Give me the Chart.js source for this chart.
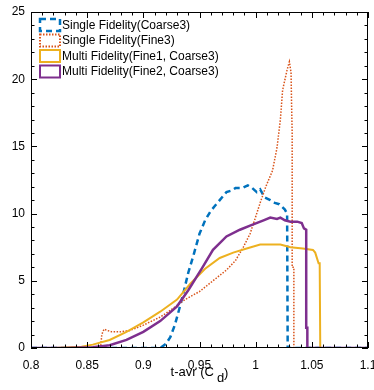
<!DOCTYPE html>
<html><head><meta charset="utf-8">
<script src="https://cdn.jsdelivr.net/npm/chart.js@4.4.0/dist/chart.umd.min.js"></script>
<style>html,body{margin:0;padding:0;background:#fff}#wrap{width:374px;height:390px}</style>
</head><body><div id="wrap"><canvas id="c" width="374" height="390"></canvas></div>
<script>
// ---- data ----
const seriesLabels = ['Single Fidelity(Coarse3)', 'Single Fidelity(Fine3)', 'Multi Fidelity(Fine1, Coarse3)', 'Multi Fidelity(Fine2, Coarse3)'];

const coarse3X = [0.8, 0.915, 0.92, 0.924, 0.928, 0.932, 0.936, 0.94, 0.945, 0.95, 0.955, 0.96, 0.964, 0.968, 0.974, 0.978, 0.982, 0.988, 0.993, 0.997, 1.001, 1.004, 1.008, 1.013, 1.017, 1.021, 1.026, 1.028, 1.0285, 1.1];
const coarse3Y = [0, 0, 0.3, 0.8, 1.7, 2.9, 4.2, 5.6, 7.0, 8.5, 9.5, 10.2, 10.6, 11.0, 11.6, 11.7, 11.9, 11.9, 12.1, 11.9, 11.6, 11.8, 11.2, 11.0, 10.8, 10.7, 10.3, 10.0, 0, 0];

const fine3X = [0.8, 0.862, 0.863, 0.865, 0.868, 0.872, 0.879, 0.888, 0.9, 0.915, 0.924, 0.937, 0.95, 0.962, 0.974, 0.982, 0.989, 0.995, 0.999, 1.004, 1.009, 1.015, 1.019, 1.022, 1.024, 1.028, 1.030, 1.0315, 1.032, 1.0325, 1.0325, 1.034, 1.034, 1.1];
const fine3Y = [0, 0, 1.0, 1.4, 1.3, 1.2, 1.2, 1.3, 1.7, 2.3, 2.8, 3.6, 4.2, 5.0, 5.8, 6.5, 7.5, 8.5, 9.5, 10.8, 12.0, 13.2, 14.9, 17.0, 19.2, 20.7, 21.3, 20.5, 18.0, 16.0, 6.0, 6.0, 0, 0];

const fine1X = [0.8, 0.82, 0.835, 0.845, 0.855, 0.87, 0.885, 0.9, 0.915, 0.93, 0.942, 0.955, 0.968, 0.98, 0.992, 1.004, 1.013, 1.022, 1.031, 1.042, 1.051, 1.053, 1.056, 1.057, 1.0575, 1.1];
const fine1Y = [0, 0, 0.05, 0.1, 0.25, 0.6, 1.2, 1.9, 2.7, 3.6, 4.8, 5.9, 6.7, 7.1, 7.4, 7.7, 7.7, 7.7, 7.5, 7.4, 7.3, 7.1, 6.3, 6.3, 0, 0];

const fine2X = [0.8, 0.83, 0.855, 0.87, 0.885, 0.9, 0.915, 0.93, 0.94, 0.952, 0.962, 0.974, 0.986, 0.995, 1.007, 1.013, 1.019, 1.022, 1.026, 1.031, 1.037, 1.041, 1.043, 1.045, 1.045, 1.046, 1.046, 1.1];
const fine2Y = [0, 0, 0.05, 0.2, 0.6, 1.2, 2.0, 3.1, 4.3, 5.9, 7.3, 8.3, 8.8, 9.1, 9.5, 9.7, 9.6, 9.7, 9.5, 9.4, 9.4, 9.3, 8.9, 8.8, 1.5, 1.5, 0, 0];

const xTickValues = [0.8, 0.85, 0.9, 0.95, 1, 1.05, 1.1];
const xTickLabels = ['0.8', '0.85', '0.9', '0.95', '1', '1.05', '1.1'];
const yTickValues = [0, 5, 10, 15, 20, 25];
const yTickLabels = ['0', '5', '10', '15', '20', '25'];
const xMinorStep = 0.01;
const yMinorStep = 1;
const xTitleMain = 't-avr (C';
const xTitleSub = 'd';
const xTitleEnd = ')';

const FONT = '"Liberation Sans", Arial, Helvetica, sans-serif';

function pts(xs, ys) { return xs.map((x, i) => ({ x: x, y: ys[i] })); }

const frame = {
  id: 'frame',
  afterDraw(chart) {
    const { ctx, chartArea: a, scales } = chart;
    const x = scales.x, y = scales.y;
    ctx.save();
    ctx.strokeStyle = '#000';
    ctx.lineWidth = 1;
    ctx.beginPath();
    const nx = Math.round((x.max - x.min) / xMinorStep);
    for (let i = 0; i <= nx; i++) {
      const v = x.min + i * xMinorStep;
      const px = Math.round(x.getPixelForValue(v)) + 0.5;
      const L = (i % 5 === 0) ? 6 : 3.5;
      ctx.moveTo(px, a.bottom); ctx.lineTo(px, a.bottom - L);
      ctx.moveTo(px, a.top); ctx.lineTo(px, a.top + L);
    }
    const ny = Math.round((y.max - y.min) / yMinorStep);
    for (let i = 0; i <= ny; i++) {
      const v = y.min + i * yMinorStep;
      const py = Math.round(y.getPixelForValue(v)) + 0.5;
      const L = (i % 5 === 0) ? 6 : 3.5;
      ctx.moveTo(a.left, py); ctx.lineTo(a.left + L, py);
      ctx.moveTo(a.right, py); ctx.lineTo(a.right - L, py);
    }
    ctx.stroke();
    ctx.strokeRect(Math.round(a.left) + 0.5, Math.round(a.top) + 0.5, Math.round(a.right - a.left) - 1, Math.round(a.bottom - a.top) - 1);

    // legend
    ctx.font = '12px ' + FONT;
    ctx.textBaseline = 'middle';
    ctx.textAlign = 'left';
    chart.data.datasets.forEach((ds, i) => {
      const cy = 25 + i * 15.5;
      ctx.save();
      ctx.strokeStyle = ds.borderColor;
      ctx.lineWidth = ds.legendWidth;
      ctx.setLineDash(ds.borderDash || []);
      ctx.strokeRect(40, cy - 6, 20, 12);
      ctx.restore();
      ctx.fillStyle = '#000';
      ctx.fillText(ds.label, 62, cy + 0.5);
    });

    // x title with subscript
    ctx.font = '13px ' + FONT;
    ctx.textBaseline = 'alphabetic';
    const w1 = ctx.measureText(xTitleMain).width;
    const w2 = ctx.measureText(xTitleSub).width;
    const w3 = ctx.measureText(xTitleEnd).width;
    const gap = 3;
    const total = w1 + gap + w2 + w3;
    let sx = (a.left + a.right) / 2 - total / 2;
    ctx.fillText(xTitleMain, sx, 376);
    ctx.fillText(xTitleSub, sx + w1 + gap, 382);
    ctx.fillText(xTitleEnd, sx + w1 + gap + w2, 377);
    ctx.restore();
  }
};

new Chart(document.getElementById('c'), {
  type: 'line',
  data: {
    datasets: [
      { label: seriesLabels[0], data: pts(coarse3X, coarse3Y), borderColor: '#0072BD', borderWidth: 2.5, borderDash: [6, 4], legendWidth: 2.5, order: 4 },
      { label: seriesLabels[1], data: pts(fine3X, fine3Y), borderColor: '#D95319', borderWidth: 1.5, borderDash: [1.5, 1.5], legendWidth: 2, order: 3 },
      { label: seriesLabels[2], data: pts(fine1X, fine1Y), borderColor: '#EDB120', borderWidth: 2, legendWidth: 2, order: 2 },
      { label: seriesLabels[3], data: pts(fine2X, fine2Y), borderColor: '#7E2F8E', borderWidth: 2.5, legendWidth: 2, order: 1 }
    ]
  },
  options: {
    responsive: false,
    animation: false,
    devicePixelRatio: 1,
    layout: { padding: { left: 0, right: 6, top: 12, bottom: 0 } },
    elements: { point: { radius: 0 }, line: { tension: 0, fill: false } },
    plugins: { legend: { display: false }, tooltip: { enabled: false } },
    scales: {
      x: {
        type: 'linear', min: 0.8, max: 1.1,
        afterBuildTicks: s => { s.ticks = xTickValues.map(v => ({ value: v })); },
        afterFit: s => { s.height = 42; s.paddingLeft = 0; s.paddingRight = 0; },
        ticks: {
          autoSkip: false, maxRotation: 0, padding: 10, color: '#000',
          font: { family: FONT, size: 12 },
          callback: v => { const i = xTickValues.findIndex(t => Math.abs(t - v) < 1e-9); return i >= 0 ? xTickLabels[i] : ''; }
        },
        grid: { display: false, drawTicks: false },
        border: { display: false }
      },
      y: {
        type: 'linear', min: 0, max: 25,
        afterBuildTicks: s => { s.ticks = yTickValues.map(v => ({ value: v })); },
        afterFit: s => { s.width = 31; s.paddingTop = 0; s.paddingBottom = 0; },
        ticks: {
          autoSkip: false, padding: 6, color: '#000',
          font: { family: FONT, size: 12 },
          callback: v => { const i = yTickValues.findIndex(t => Math.abs(t - v) < 1e-9); return i >= 0 ? yTickLabels[i] : ''; }
        },
        grid: { display: false, drawTicks: false },
        border: { display: false }
      }
    }
  },
  plugins: [frame]
});
</script></body></html>
